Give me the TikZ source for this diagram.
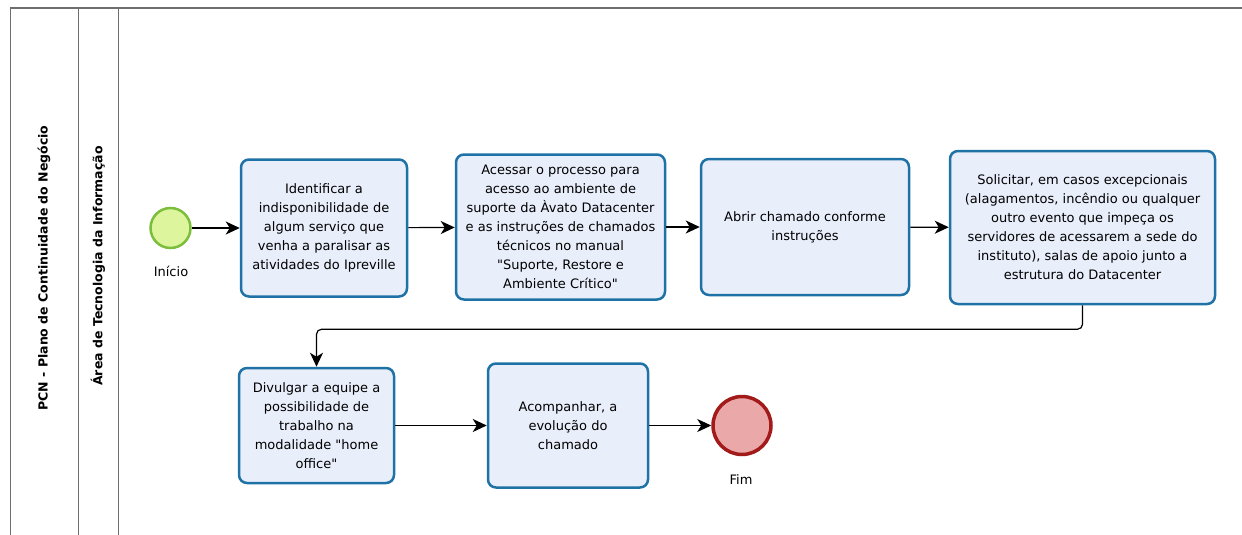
\documentclass[tikz,border=0pt]{standalone}
\usepackage{fontspec}
\setmainfont{DejaVu Sans}
\usetikzlibrary{arrows.meta}
\definecolor{taskFill}{HTML}{E9EEFB}
\definecolor{taskLine}{HTML}{1F72A6}
\definecolor{startFill}{HTML}{DDF59C}
\definecolor{startLine}{HTML}{7CBE3C}
\definecolor{endFill}{HTML}{EBA8A9}
\definecolor{endLine}{HTML}{A21A1A}
\definecolor{poolLine}{HTML}{6E6E6E}
\tikzset{
  task/.style={draw=taskLine, fill=taskFill, line width=2.5pt, rounded corners=8pt,
    align=center, inner sep=0pt, font=\fontsize{13}{19}\selectfont},
  startevent/.style={circle, draw=startLine, fill=startFill, line width=2.5pt,
    minimum size=40pt, inner sep=0pt},
  endevent/.style={circle, draw=endLine, fill=endFill, line width=3.5pt,
    minimum size=58pt, inner sep=0pt},
  eventlabel/.style={font=\fontsize{13}{15}\selectfont},
  flow/.style={draw=black, line width=1.2pt, -{Stealth[length=14pt,width=13pt,inset=4pt]}},
  lanetitle/.style={rotate=90, font=\bfseries\fontsize{12.5}{14}\selectfont}
}
\newcommand{\drawLaneLine}[1]{\draw [poolLine, line width=1pt] (#1,8) -- (#1,535)}

\begin{document}
\begin{tikzpicture}[x=1pt, y=-1pt]
    \useasboundingbox (0,0) rectangle (1242,535);

    %pool and lanes
    \draw [poolLine, line width=1.8pt] (10,8) -- (1242,8);
    \drawLaneLine{10};
    \drawLaneLine{78};
    \drawLaneLine{118};
    \node [lanetitle] (pool) at (44,268) {PCN - Plano de Continuidade do Negócio};
    \node [lanetitle] (lane) at (98,266) {Área de Tecnologia da Informação};

    %first row
    \node [startevent] (inicio) at (170.5,228) {};
    \node [eventlabel] (inicioLabel) at (171,271) {Início};

    \node [task, minimum width=166pt, minimum height=137pt] (identificar) at (324,228)
      {Identificar a\\indisponibilidade de\\algum serviço que\\venha a paralisar as\\atividades do Ipreville};

    \node [task, minimum width=209pt, minimum height=145pt] (acessar) at (560.5,227)
      {Acessar o processo para\\acesso ao ambiente de\\suporte da Àvato Datacenter\\e as instruções de chamados\\técnicos no manual\\\textquotedbl Suporte, Restore e\\Ambiente Crítico\textquotedbl};

    \node [task, minimum width=208pt, minimum height=136pt] (abrir) at (805,227)
      {Abrir chamado conforme\\instruções};

    \node [task, minimum width=265pt, minimum height=153pt] (solicitar) at (1082.5,227.5)
      {Solicitar, em casos excepcionais\\(alagamentos, incêndio ou qualquer\\outro evento que impeça os\\servidores de acessarem a sede do\\instituto),  salas de apoio junto a\\estrutura do Datacenter};

    %second row
    \node [task, minimum width=155pt, minimum height=115pt] (divulgar) at (316.5,425.5)
      {Divulgar a equipe a\\possibilidade de\\trabalho na\\modalidade \textquotedbl home\\office\textquotedbl};

    \node [task, minimum width=160pt, minimum height=124pt] (acompanhar) at (568,425.5)
      {Acompanhar,  a\\evolução do\\chamado};

    \node [endevent] (fim) at (742,425.5) {};
    \node [eventlabel] (fimLabel) at (741,480) {Fim};

    %flows
    \draw [flow] (inicio) -- (identificar);
    \draw [flow] (identificar) -- (acessar);
    \draw [flow] (acessar) -- (abrir);
    \draw [flow] (abrir) -- (solicitar);
    \draw [flow, rounded corners=5pt] (solicitar.south) -- ++(0,24) -| (divulgar.north);
    \draw [flow] (divulgar) -- (acompanhar);
    \draw [flow] (acompanhar) -- (fim);

\end{tikzpicture}
\end{document}
